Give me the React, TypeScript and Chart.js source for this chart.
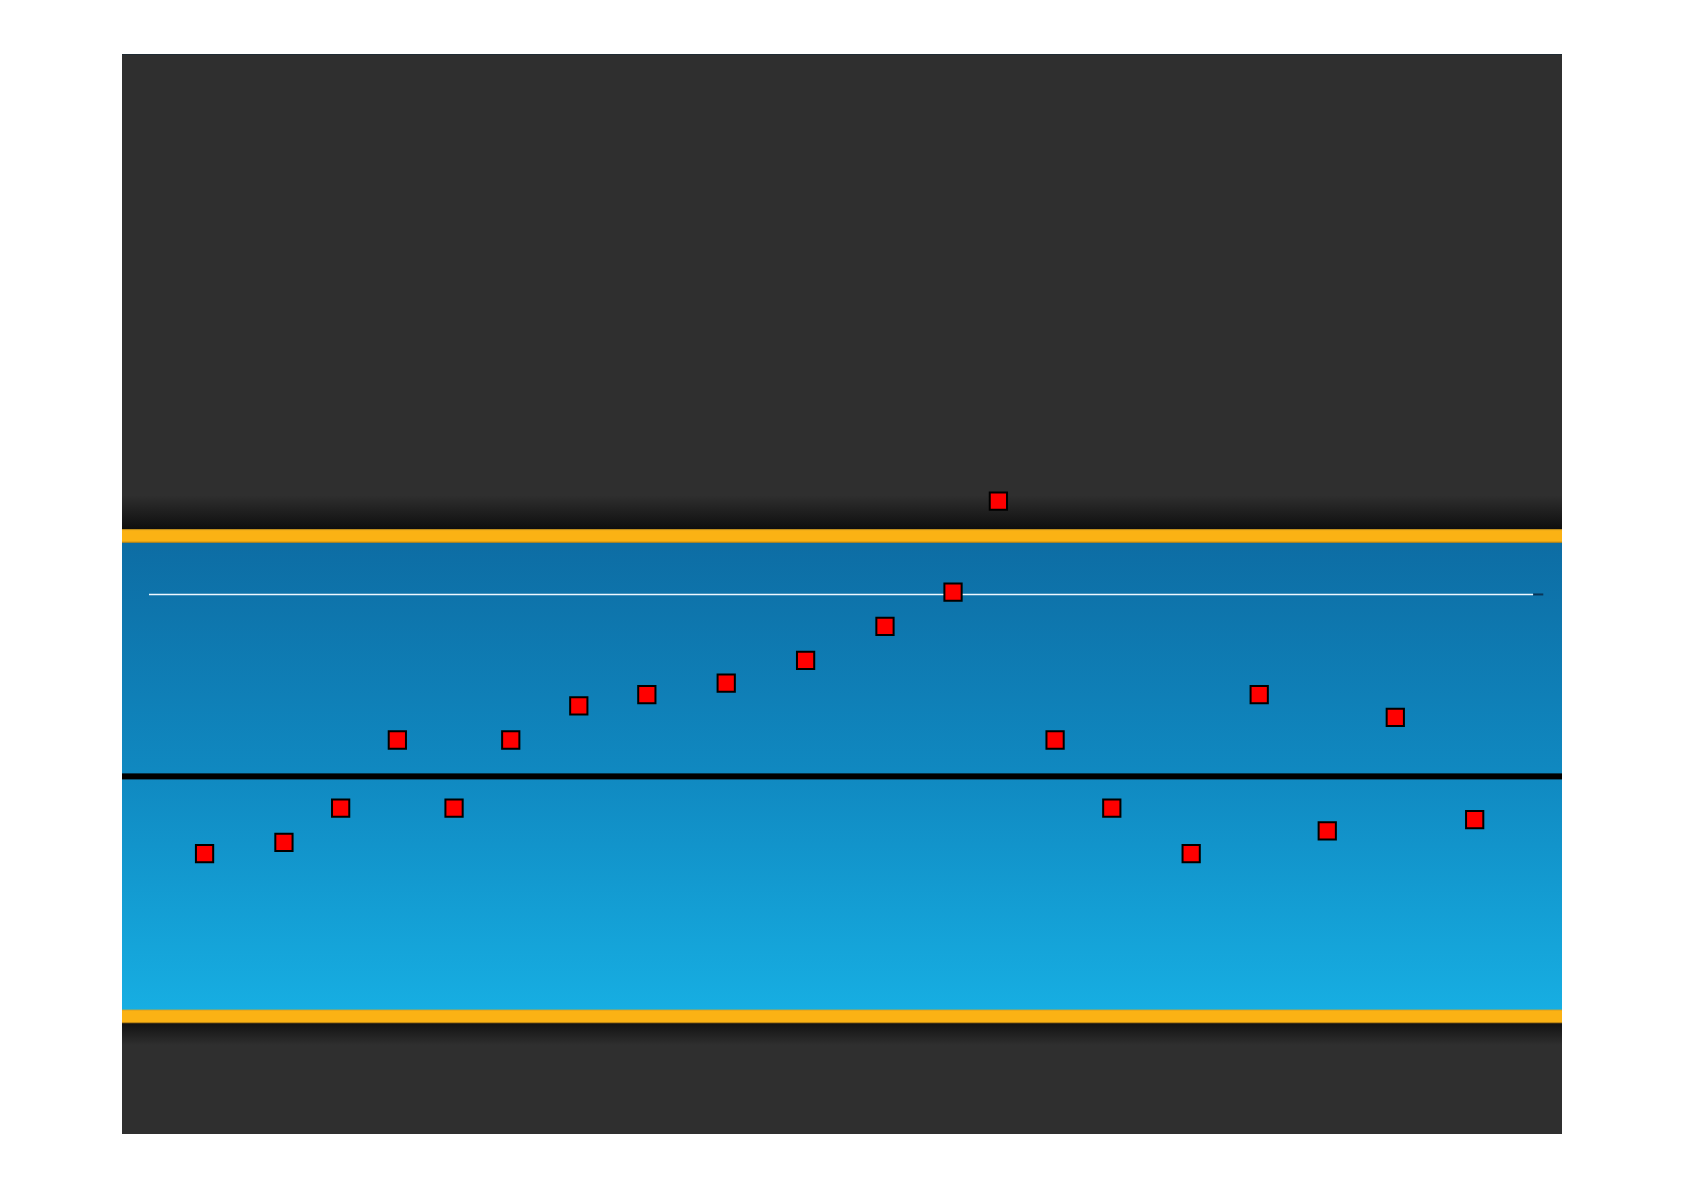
import React, { useEffect, useRef } from "react";
import { Chart, registerables } from "chart.js";

Chart.register(...registerables);

// Sample positions (x) and measured values (y)
const xValues = [0, 7, 12, 17, 22, 27, 33, 39, 46, 53, 60, 66, 70, 75, 80, 87, 93, 99, 105, 112];
const yValues = [5, 6, 9, 15, 9, 15, 18, 19, 20, 22, 25, 28, 36, 15, 9, 5, 19, 7, 17, 8];

// Reference levels
const centerLine = 11.8;
const upperLimit = 32.94;
const lowerLimit = -9.31;
const targetLine = 27.8;
const targetStart = -4.9;
const targetEnd = 117.15;
const arrowEnd = 118.05;

// Axis ranges
const xMin = -7.28;
const xMax = 119.7;
const yMin = -19.65;
const yMax = 75.33;

const backgroundPlugin = {
  id: "bgBands",
  beforeDatasetsDraw(chart: any) {
    const { ctx, chartArea } = chart;
    const y = chart.scales.y;
    const { left, right, top, bottom } = chartArea;
    const w = right - left;
    const yU = y.getPixelForValue(upperLimit);
    const yL = y.getPixelForValue(lowerLimit);
    const yC = y.getPixelForValue(centerLine);
    const band = 13.4;
    ctx.save();
    // dark panel
    ctx.fillStyle = "#2f2f2f";
    ctx.fillRect(left, top, w, bottom - top);
    ctx.fillStyle = "#1f2b33";
    ctx.fillRect(left, top, w, 1);
    // shadow above upper band
    let g = ctx.createLinearGradient(0, yU - band / 2 - 34, 0, yU - band / 2);
    g.addColorStop(0, "rgba(14,14,14,0)");
    g.addColorStop(1, "rgba(14,14,14,1)");
    ctx.fillStyle = g;
    ctx.fillRect(left, yU - band / 2 - 34, w, 34);
    // shadow below lower band
    g = ctx.createLinearGradient(0, yL + band / 2, 0, yL + band / 2 + 22);
    g.addColorStop(0, "rgba(18,18,18,1)");
    g.addColorStop(1, "rgba(18,18,18,0)");
    ctx.fillStyle = g;
    ctx.fillRect(left, yL + band / 2, w, 22);
    // blue zone
    g = ctx.createLinearGradient(0, yU, 0, yL);
    g.addColorStop(0, "#0d6ca3");
    g.addColorStop(0.5, "#1089c1");
    g.addColorStop(1, "#17afe3");
    ctx.fillStyle = g;
    ctx.fillRect(left, yU, w, yL - yU);
    // orange limit bands
    for (const yy of [yU, yL]) {
      ctx.fillStyle = "#fbb214";
      ctx.fillRect(left, yy - band / 2, w, band);
      ctx.fillStyle = "rgba(140,100,20,0.6)";
      ctx.fillRect(left, yy + band / 2 - 1, w, 1);
      ctx.fillStyle = "rgba(200,150,40,0.5)";
      ctx.fillRect(left, yy - band / 2, w, 1);
    }
    // center line
    ctx.fillStyle = "#000000";
    ctx.fillRect(left, yC - 3, w, 6);
    ctx.restore();
  },
};

export default function App() {
  const ref = useRef<HTMLCanvasElement | null>(null);
  useEffect(() => {
    if (!ref.current) return;
    const chart = new Chart(ref.current, {
      type: "scatter",
      data: {
        datasets: [
          {
            type: "scatter",
            data: xValues.map((x, i) => ({ x, y: yValues[i] })),
            pointStyle: "rect",
            pointRadius: 12.2,
            pointHoverRadius: 12.2,
            backgroundColor: "#ff0000",
            borderColor: "#000000",
            borderWidth: 2,
          } as any,
          {
            type: "line",
            data: [
              { x: targetStart, y: targetLine },
              { x: targetEnd, y: targetLine },
            ],
            borderColor: "#eef8ff",
            borderWidth: 1.5,
            pointRadius: 0,
            fill: false,
          } as any,
          {
            type: "line",
            data: [
              { x: targetEnd, y: targetLine },
              { x: arrowEnd, y: targetLine },
            ],
            borderColor: "#0a3658",
            borderWidth: 2,
            pointRadius: 0,
            fill: false,
          } as any,
        ],
      },
      options: {
        responsive: false,
        animation: false,
        events: [],
        layout: { padding: { left: 122, right: 122, top: 54, bottom: 56 } },
        scales: {
          x: { type: "linear", min: xMin, max: xMax, display: false },
          y: { type: "linear", min: yMin, max: yMax, display: false },
        },
        plugins: {
          legend: { display: false },
          tooltip: { enabled: false },
        },
      },
      plugins: [backgroundPlugin],
    });
    return () => chart.destroy();
  }, []);
  return (
    <div style={{ position: "absolute", left: 0, top: 0, width: 1684, height: 1190, background: "#ffffff" }}>
      <canvas ref={ref} width={1684} height={1190} style={{ display: "block" }} />
    </div>
  );
}
